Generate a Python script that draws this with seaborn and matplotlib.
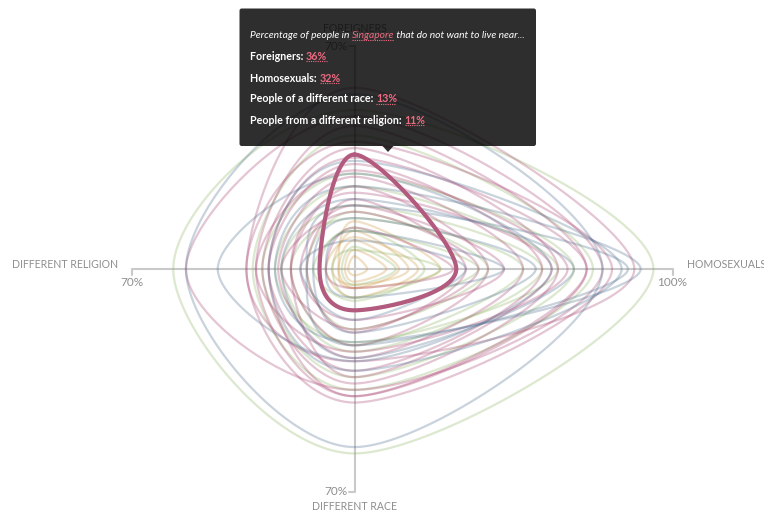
import numpy as np
import pandas as pd
import matplotlib
matplotlib.use("Agg")
import matplotlib.pyplot as plt
import seaborn as sns
from matplotlib.patches import FancyBboxPatch, Polygon

# ---------------- data (percent of people who do not want to live near ...) -------------
countries = ["C01", "C02", "C03", "C04", "C05", "C06", "C07", "C08", "Singapore", "C10",
             "C11", "C12", "C13", "C14", "C15", "C16", "C17", "C18", "C19", "C20",
             "C21", "C22", "C23", "C24", "C25", "C26", "C27", "C28", "C29", "C30",
             "C31", "C32", "C33", "C34", "C35", "C36", "C37", "C38", "C39", "C40",
             "C41", "C42"]
foreigners = [4, 6, 9, 12, 10, 15, 7, 13, 36, 22,
              26, 29, 33, 38, 45, 40, 48, 20, 18, 31,
              24, 55, 30, 20, 26, 16, 12, 22, 9, 34,
              50, 42, 30, 16, 18, 20, 12, 26, 6, 13,
              57, 35]
homosexuals = [4, 10, 14, 17, 20, 27, 13, 22, 32, 35,
               42, 53, 59, 64, 73, 81, 78, 47, 39, 67,
               62, 78, 62, 86, 90, 57, 47, 69, 35, 84,
               94, 75, 69, 53, 42, 59, 39, 64, 27, 31,
               88, 73]
diff_race = [2, 4, 6, 5, 9, 6, 5, 10, 13, 20,
             24, 28, 32, 36, 40, 42, 38, 16, 19, 26,
             34, 56, 29, 24, 23, 20, 9, 28, 16, 32,
             58, 38, 34, 24, 19, 26, 13, 23, 9, 6,
             29, 40]
diff_religion = [2, 3, 5, 7, 9, 5, 4, 13, 11, 15,
                 20, 24, 27, 29, 31, 34, 53, 17, 23, 31,
                 20, 53, 43, 15, 25, 13, 9, 23, 17, 27,
                 57, 32, 29, 20, 15, 23, 11, 25, 7, 9,
                 34, 27]
groups = ["tan", "tan", "tan", "tan", "tan", "tan", "green", "green", "pink", "pink",
          "pink", "pink", "pink", "pink", "pink", "pink", "pink", "pink", "pink", "pink",
          "pink", "blue", "blue", "blue", "blue", "blue", "blue", "blue", "blue", "blue",
          "green", "green", "green", "green", "green", "green", "green", "green", "green", "pink",
          "pink", "pink"]
axis_names = ["FOREIGNERS", "HOMOSEXUALS", "DIFFERENT RACE", "DIFFERENT RELIGION"]
axis_max = [70, 100, 70, 70]
highlight = "Singapore"

# ---------------- layout (pixels) ----------------
W, H = 764, 512
CX, CY = 354.5, 269.0
S = 3.18  # pixels per percent


def d(px, py):
    """pixel position -> data coordinates"""
    return (px - CX) / S, (CY - py) / S


def closed_cardinal(pts, n=48):
    pts = np.asarray(pts, float)
    m = len(pts)
    out = []
    t = np.linspace(0, 1, n, endpoint=False)[:, None]
    for i in range(m):
        p0, p1, p2, p3 = pts[(i - 1) % m], pts[i], pts[(i + 1) % m], pts[(i + 2) % m]
        b1 = p1 + (p2 - p0) / 6.0
        b2 = p2 - (p3 - p1) / 6.0
        seg = (1 - t) ** 3 * p1 + 3 * (1 - t) ** 2 * t * b1 + 3 * (1 - t) * t ** 2 * b2 + t ** 3 * p2
        out.append(seg)
    out.append(pts[:1])
    return np.vstack(out)


rows = []
for name, f, h, r, l, g in zip(countries, foreigners, homosexuals, diff_race, diff_religion, groups):
    curve = closed_cardinal([(0, f), (h, 0), (0, -r), (-l, 0)])
    for k, (x, y) in enumerate(curve):
        rows.append((name, g, k, x, y))
df = pd.DataFrame(rows, columns=["country", "group", "order", "x", "y"])

sns.set_theme(style="white")
plt.rcParams["font.family"] = ["Lato", "DejaVu Sans"]

fig = plt.figure(figsize=(W / 100, H / 100), dpi=100)
ax = fig.add_axes([0, 0, 1, 1])

GREY = "#c9c9c9"
LABEL = "#8e8e8e"
tick = 6 / S

# axes lines (under the curves)
ax.plot([0, 0], [0, axis_max[0]], color=GREY, lw=1.5, zorder=1, solid_capstyle="butt")
ax.plot([0, -tick], [axis_max[0], axis_max[0]], color=GREY, lw=1.5, zorder=1)
ax.plot([0, axis_max[1]], [0, 0], color=GREY, lw=1.5, zorder=1, solid_capstyle="butt")
ax.plot([axis_max[1], axis_max[1]], [0, -tick], color=GREY, lw=1.5, zorder=1)
ax.plot([0, 0], [0, -axis_max[2]], color=GREY, lw=1.5, zorder=1, solid_capstyle="butt")
ax.plot([0, -tick], [-axis_max[2], -axis_max[2]], color=GREY, lw=1.5, zorder=1)
ax.plot([0, -axis_max[3]], [0, 0], color=GREY, lw=1.5, zorder=1, solid_capstyle="butt")
ax.plot([-axis_max[3], -axis_max[3]], [0, -tick], color=GREY, lw=1.5, zorder=1)

palette = {"pink": "#a8416e", "blue": "#4f6f8f", "green": "#8db360", "tan": "#d09a45"}
sns.lineplot(data=df[df.country != highlight], x="x", y="y", units="country",
             estimator=None, sort=False, hue="group", palette=palette,
             lw=1.6, alpha=0.3, legend=False, ax=ax, zorder=2)
sns.lineplot(data=df[df.country == highlight], x="x", y="y", units="country",
             estimator=None, sort=False, color="#b35a7f", lw=3.0, legend=False,
             ax=ax, zorder=3)

ax.set_xlim(-CX / S, (W - CX) / S)
ax.set_ylim(-(H - CY) / S, CY / S)
ax.set_aspect("auto")
ax.axis("off")

# axis labels
labels = []
labels.append(ax.text(*d(118, 265), axis_names[3], ha="right", va="center", color=LABEL))
labels.append(ax.text(*d(687, 265), axis_names[1], ha="left", va="center", color=LABEL))
labels.append(ax.text(*d(355, 507), axis_names[2], ha="center", va="center", color=LABEL))
labels.append(ax.text(*d(355, 28), axis_names[0], ha="center", va="center", color=LABEL))
labels.append(ax.text(-axis_max[3], d(0, 282)[1], f"{axis_max[3]}%", ha="center", va="center", color=LABEL))
labels.append(ax.text(axis_max[1], d(0, 282)[1], f"{axis_max[1]}%", ha="center", va="center", color=LABEL))
labels.append(ax.text(d(347, 0)[0], -axis_max[2], f"{axis_max[2]}%", ha="right", va="center", color=LABEL))
labels.append(ax.text(d(347, 0)[0], axis_max[0], f"{axis_max[0]}%", ha="right", va="center", color=LABEL))

fig.canvas.draw()
r = fig.canvas.get_renderer()
w = labels[0].get_window_extent(r).width
fs_lab = labels[0].get_fontsize() * 106 / w
for t in labels[:4]:
    t.set_fontsize(fs_lab)
for t in labels[4:]:
    t.set_fontsize(fs_lab * 1.12)

# ---------------- tooltip ----------------
x0, y0 = d(239.5, 146)
x1, y1 = d(536, 8.5)
box = FancyBboxPatch((x0, y0), x1 - x0, y1 - y0, boxstyle="round,pad=0,rounding_size=0.7",
                     fc="black", ec="none", alpha=0.82, zorder=10)
ax.add_patch(box)
tri = Polygon([d(382.5, 146), d(393.5, 146), d(388, 152)], closed=True,
              fc="black", ec="none", alpha=0.82, zorder=10)
ax.add_patch(tri)

i = countries.index(highlight)
PINK = "#ef6b82"
tip_lines = [
    [("Percentage of people in ", "white", "normal", "italic", False),
     (highlight, PINK, "normal", "italic", True),
     (" that do not want to live near...", "white", "normal", "italic", False)],
    [("Foreigners: ", "white", "bold", "normal", False),
     (f"{foreigners[i]}%", PINK, "bold", "normal", True)],
    [("Homosexuals: ", "white", "bold", "normal", False),
     (f"{homosexuals[i]}%", PINK, "bold", "normal", True)],
    [("People of a different race: ", "white", "bold", "normal", False),
     (f"{diff_race[i]}%", PINK, "bold", "normal", True)],
    [("People from a different religion: ", "white", "bold", "normal", False),
     (f"{diff_religion[i]}%", PINK, "bold", "normal", True)],
]
line_y = [38.5, 60, 81.5, 102.5, 123.5]  # baselines in px
all_txt, under, line_txts = [], [], []
for pieces, yb in zip(tip_lines, line_y):
    prev = None
    lt = []
    for (s, c, wgt, sty, ul) in pieces:
        if prev is None:
            t = ax.text(*d(250.5, yb), s, color=c, fontweight=wgt, fontstyle=sty,
                        ha="left", va="baseline", zorder=11)
        else:
            t = ax.annotate(s, xy=(1, 0), xycoords=prev, xytext=(-0.4, 0),
                            textcoords="offset points", color=c, fontweight=wgt,
                            fontstyle=sty, ha="left", va="bottom", zorder=11)
        all_txt.append(t)
        lt.append(t)
        if ul:
            under.append(t)
        prev = t
    line_txts.append(lt)

fig.canvas.draw()
r = fig.canvas.get_renderer()


def line_width(lt):
    e = [t.get_window_extent(r) for t in lt]
    return e[-1].x1 - e[0].x0


fs_title = all_txt[0].get_fontsize() * 276 / line_width(line_txts[0])
fs_bold = all_txt[0].get_fontsize() * 174 / line_width(line_txts[4])
for k, lt in enumerate(line_txts):
    for t in lt:
        t.set_fontsize(fs_title if k == 0 else fs_bold)

fig.canvas.draw()
r = fig.canvas.get_renderer()
inv = ax.transData.inverted()
for t in under:
    bb = t.get_window_extent(r)
    (ux0, uy), (ux1, _) = inv.transform([(bb.x0 + 0.5, bb.y0 + 0.8), (bb.x1 - 0.5, bb.y0 + 0.8)])
    ax.plot([ux0, ux1], [uy, uy], color=PINK, lw=0.8, ls=(0, (1, 1)), zorder=11)

fig.savefig("out.png", dpi=100, facecolor="white")
